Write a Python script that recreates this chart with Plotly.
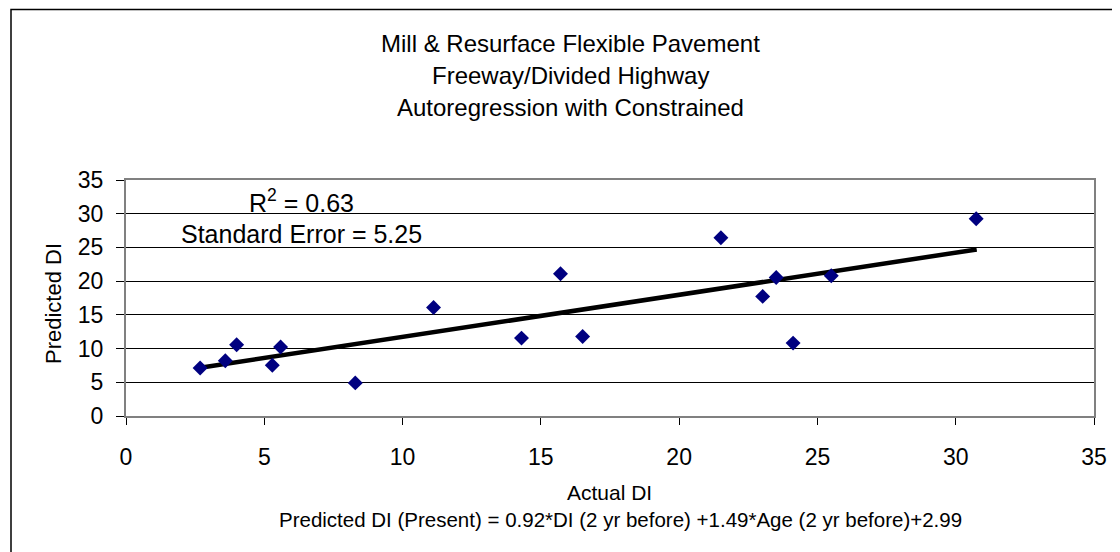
import plotly.graph_objects as go

# ---- data ----
actual_di = [2.68, 3.59, 4.0, 5.29, 5.59, 8.29, 11.12, 14.3, 15.71, 16.51,
             21.51, 23.02, 23.51, 24.12, 25.5, 30.74]
predicted_di = [7.12, 8.2, 10.56, 7.52, 10.22, 4.91, 16.08, 11.55, 21.09, 11.8,
                26.45, 17.74, 20.55, 10.81, 20.8, 29.25]
trend_x = [2.68, 30.76]
trend_y = [7.15, 24.7]
title_lines = ["Mill & Resurface Flexible Pavement",
               "Freeway/Divided Highway",
               "Autoregression with Constrained"]
x_title = "Actual DI"
y_title = "Predicted DI"
equation = "Predicted DI (Present) = 0.92*DI (2 yr before) +1.49*Age (2 yr before)+2.99"
r2_text = "R<sup>2</sup> = 0.63"
se_text = "Standard Error = 5.25"
tick_vals = [0, 5, 10, 15, 20, 25, 30, 35]

FONT = "Liberation Sans, Arial, sans-serif"

# plot area pixel geometry
L, R, T, B = 118, 1086, 172, 408
W, H = 1120, 552
def px(xp):
    return (xp - L) / (R - L)
def py(yp):
    return (B - yp) / (B - T)

fig = go.Figure()
fig.add_trace(go.Scatter(x=trend_x, y=trend_y, mode="lines",
                         line=dict(color="black", width=4.5), hoverinfo="skip",
                         showlegend=False))
fig.add_trace(go.Scatter(x=actual_di, y=predicted_di, mode="markers",
                         marker=dict(symbol="diamond", size=11.5, color="#000080",
                                     line=dict(width=0)),
                         showlegend=False))

annotations = []
for i, line in enumerate(title_lines):
    annotations.append(dict(text=line, xref="paper", yref="paper",
                            x=px(562), y=py(35 + 32.5 * i), xanchor="center",
                            yanchor="middle", showarrow=False,
                            font=dict(family=FONT, size=24, color="black")))
annotations.append(dict(text=r2_text, xref="x", yref="y", x=4.37, y=31.9,
                        xanchor="left", yanchor="middle", showarrow=False,
                        font=dict(family=FONT, size=25, color="black")))
annotations.append(dict(text=se_text, xref="x", yref="y", x=1.9, y=27.0,
                        xanchor="left", yanchor="middle", showarrow=False,
                        font=dict(family=FONT, size=25, color="black")))
annotations.append(dict(text=y_title, xref="paper", yref="paper",
                        x=px(45), y=py(296), textangle=-90,
                        xanchor="center", yanchor="middle", showarrow=False,
                        font=dict(family=FONT, size=22, color="black")))
annotations.append(dict(text=x_title, xref="paper", yref="paper",
                        x=px(601), y=py(484), xanchor="center",
                        yanchor="middle", showarrow=False,
                        font=dict(family=FONT, size=21, color="black")))
annotations.append(dict(text=equation, xref="paper", yref="paper",
                        x=px(612), y=py(511), xanchor="center",
                        yanchor="middle", showarrow=False,
                        font=dict(family=FONT, size=20.5, color="black")))

axis_common = dict(range=[0, 35], tickvals=tick_vals, ticks="outside",
                   tickcolor="black", tickwidth=1,
                   showline=True, linecolor="#808080", linewidth=2, mirror=True,
                   zeroline=False, tickfont=dict(family=FONT, size=23, color="black"))

fig.update_layout(
    width=W, height=H,
    margin=dict(l=L, r=W - R, t=T, b=H - B, pad=0),
    paper_bgcolor="white", plot_bgcolor="white",
    showlegend=False,
    xaxis=dict(**axis_common, showgrid=False, ticklen=7, ticklabelstandoff=12),
    yaxis=dict(**axis_common, showgrid=True, gridcolor="black", gridwidth=1,
               ticklen=8, ticklabelstandoff=8),
    annotations=annotations,
    shapes=[dict(type="rect", xref="paper", yref="paper",
                 x0=px(3), x1=px(1116), y0=py(549), y1=py(1.5),
                 line=dict(color="black", width=1.5), layer="below")],
)

fig.write_html("out.html")
